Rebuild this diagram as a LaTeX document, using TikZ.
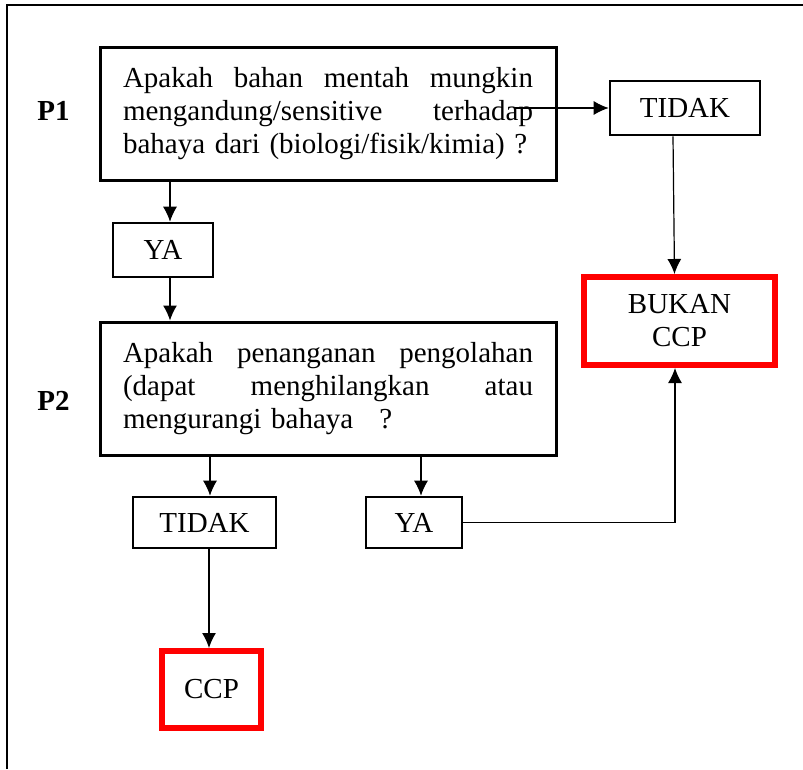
\documentclass[tikz,border=0pt]{standalone}
\usepackage{fontspec}
\setmainfont{Liberation Serif}
\usetikzlibrary{arrows.meta}
\newcommand{\fullline}[1]{\hbox to 410pt{#1}}
\begin{document}
\begin{tikzpicture}[x=1pt,y=-1pt,>={Latex[length=15pt,width=14pt]},line width=1.2pt,
  every node/.style={font=\fontsize{29}{33}\selectfont},
  qbox/.style={draw,line width=3pt,minimum width=456pt,minimum height=133pt,inner sep=0pt,text width=410pt},
  abox/.style={draw,line width=2.6pt,inner sep=0pt},
  ccpbox/.style={draw=ccpred,line width=6pt,inner sep=0pt,align=center},
  lbl/.style={font=\fontsize{29}{33}\selectfont\bfseries}]
\definecolor{ccpred}{rgb}{1,0,0}
\useasboundingbox (0,0) rectangle (803,769);
\draw[line width=2.2pt] (7,769) -- (7,5) -- (803,5);
% P1
\node[lbl] (p1) at (53.5,110.5) {P1};
\node[qbox] (boxA) at (328,113.5) {\fullline{Apakah\hfill bahan\hfill mentah\hfill mungkin}
  \fullline{mengandung/sensitive\hfill terhadap}
  \hbox{bahaya dari (biologi/fisik/kimia) ?}};
\node[abox,minimum width=150pt,minimum height=54pt] (tidakA) at (685,108) {TIDAK};
\node[abox,minimum width=100pt,minimum height=54pt] (yaA) at (163,250) {YA};
\node[ccpbox,minimum width=191pt,minimum height=88pt] (bukan) at (679.5,321) {BUKAN\\CCP};
% P2
\node[lbl] (p2) at (53.5,400.5) {P2};
\node[qbox] (boxB) at (328,388.5) {\fullline{Apakah\hfill penanganan\hfill pengolahan}
  \fullline{(dapat\hfill menghilangkan\hfill atau}
  \hbox{mengurangi bahaya\hspace{0.9em}?}};
\node[abox,minimum width=143pt,minimum height=51pt] (tidakB) at (204.5,522.5) {TIDAK};
\node[abox,minimum width=96pt,minimum height=51pt] (yaB) at (414,522.5) {YA};
\node[ccpbox,minimum width=99pt,minimum height=77pt] (ccp) at (211.5,689.5) {CCP};
% arrows
\draw[->] ([xshift=-43pt]boxA.east |- tidakA.west) -- (tidakA.west);
\draw[->] ([xshift=-12pt]tidakA.south) -- ([xshift=-5pt]bukan.north);
\draw[->] ([xshift=7pt]yaA.north |- boxA.south) -- ([xshift=7pt]yaA.north);
\draw[->] ([xshift=7pt]yaA.south) -- ([xshift=7pt]yaA.south |- boxB.north);
\draw[->] ([xshift=5.5pt]tidakB.north |- boxB.south) -- ([xshift=5.5pt]tidakB.north);
\draw[->] ([xshift=7pt]yaB.north |- boxB.south) -- ([xshift=7pt]yaB.north);
\draw[->] ([xshift=4.5pt]tidakB.south) -- ([xshift=4.5pt]tidakB.south |- ccp.north);
\draw[->] (yaB.east) -| ([xshift=-4.5pt]bukan.south);
\end{tikzpicture}
\end{document}
